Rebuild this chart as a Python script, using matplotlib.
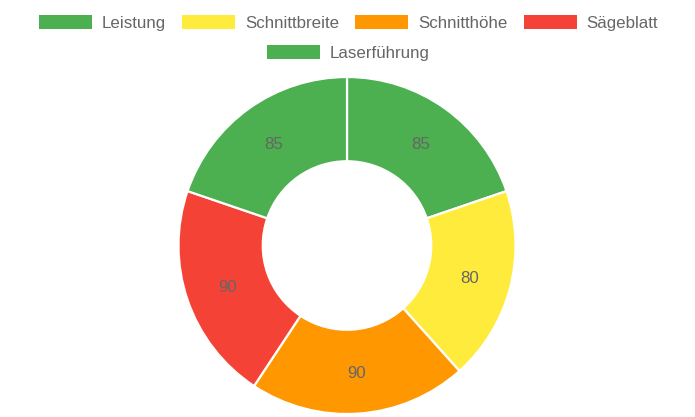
import matplotlib
matplotlib.use('Agg')
import matplotlib.pyplot as plt
from matplotlib.patches import Rectangle

labels = ['Leistung', 'Schnittbreite', 'Schnitthöhe', 'Sägeblatt', 'Laserführung']
values = [85, 80, 90, 90, 85]
colors = ['#4CAF50', '#FFEB3B', '#FF9800', '#F44336', '#4CAF50']

W, H = 695, 417
plt.rcParams['font.family'] = ['Liberation Sans', 'DejaVu Sans']
fig = plt.figure(figsize=(W / 100, H / 100), dpi=100)

# donut: center (347, 245.5) px from top, radius ~168.5 px
cx, cy, r = 347, H - 245.5, 168.5
half = 170
ax = fig.add_axes([(cx - half) / W, (cy - half) / H, 2 * half / W, 2 * half / H])
total = sum(values)
wedges, texts, autotexts = ax.pie(
    values, colors=colors, startangle=90, counterclock=False, radius=1,
    wedgeprops=dict(width=0.5, edgecolor='white', linewidth=1.6),
    autopct=lambda p: f'{p * total / 100:.0f}', pctdistance=0.75,
    textprops=dict(color='#666666', fontsize=12.2))
for t in autotexts:
    t.set_va('center_baseline')
lim = half / r
ax.set_xlim(-lim, lim)
ax.set_ylim(-lim, lim)
ax.axis('off')

# legend, chart.js style: centered rows
rows = [labels[:4], labels[4:]]
row_y = [22, 52]
box_w, box_h, gap_txt, gap_item = 53, 13, 10, 16
fs = 12.2
renderer = fig.canvas.get_renderer()
idx = 0
for row, y in zip(rows, row_y):
    widths = []
    for lab in row:
        t = fig.text(0, 0, lab, fontsize=fs)
        widths.append(t.get_window_extent(renderer).width)
        t.remove()
    total_w = sum(box_w + gap_txt + w for w in widths) + gap_item * (len(row) - 1)
    x = W / 2 + 1 - total_w / 2
    for lab, w in zip(row, widths):
        fig.patches.append(Rectangle((x / W, (H - y - box_h / 2) / H), box_w / W, box_h / H,
                                     transform=fig.transFigure, facecolor=colors[idx],
                                     edgecolor='none'))
        fig.text((x + box_w + gap_txt) / W, (H - y) / H, lab, fontsize=fs,
                 color='#666666', va='center_baseline', ha='left')
        x += box_w + gap_txt + w + gap_item
        idx += 1

fig.savefig('out.png', dpi=100)
